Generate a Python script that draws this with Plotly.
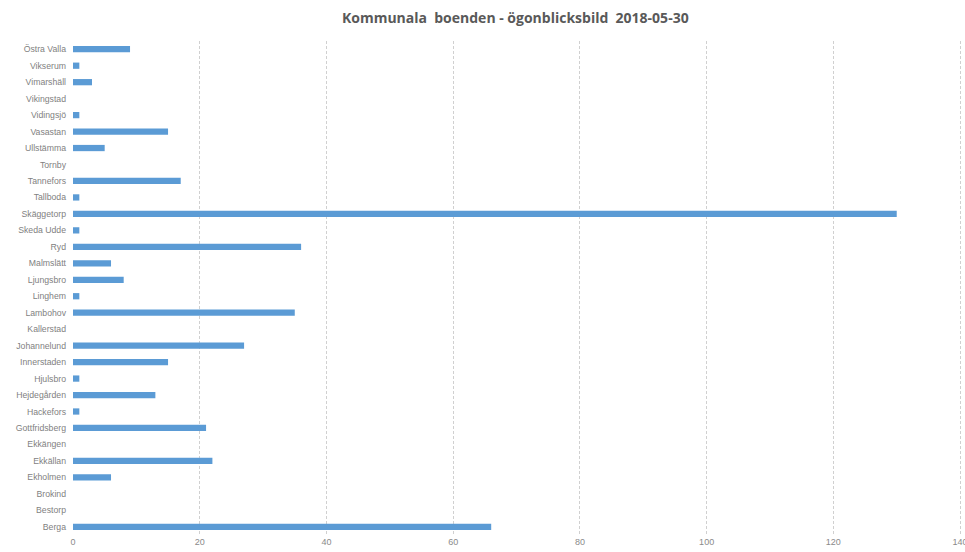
import plotly.graph_objects as go

# Housing units per area, listed top to bottom as drawn
areas = ["Östra Valla", "Vikserum", "Vimarshäll", "Vikingstad", "Vidingsjö", "Vasastan",
         "Ullstämma", "Tornby", "Tannefors", "Tallboda", "Skäggetorp", "Skeda Udde",
         "Ryd", "Malmslätt", "Ljungsbro", "Linghem", "Lambohov", "Kallerstad",
         "Johannelund", "Innerstaden", "Hjulsbro", "Hejdegården", "Hackefors",
         "Gottfridsberg", "Ekkängen", "Ekkällan", "Ekholmen", "Brokind", "Bestorp", "Berga"]
counts = [9, 1, 3, 0, 1, 15, 5, 0, 17, 1, 130, 1, 36, 6, 8, 1, 35, 0,
          27, 15, 1, 13, 1, 21, 0, 22, 6, 0, 0, 66]

x_ticks = [0, 20, 40, 60, 80, 100, 120, 140]

fig = go.Figure(go.Bar(
    x=counts,
    y=areas,
    orientation="h",
    marker=dict(color="#5B9BD5", line=dict(width=0)),
))

fig.update_layout(
    width=965, height=552,
    margin=dict(l=73, r=3, t=41, b=17),
    paper_bgcolor="white",
    plot_bgcolor="white",
    bargap=0.62,
    showlegend=False,
    title=dict(
        text="Kommunala  boenden - ögonblicksbild  2018-05-30",
        x=0.534, xanchor="center", y=0.967, yanchor="middle",
        font=dict(family="Open Sans", size=14, color="#595959", weight="bold"),
    ),
    font=dict(family="Liberation Sans", size=8.7, color="#7f7f7f"),
)

fig.update_xaxes(
    range=[0, 140.3],
    tickvals=x_ticks,
    automargin=False,
    showgrid=True, gridcolor="#d0d0d0", griddash="3px,2px", gridwidth=1,
    zeroline=False,
    showline=False, ticks="",
    ticklabeloverflow="allow",
    tickfont=dict(size=9, color="#8a8a8a"),
)
fig.update_yaxes(
    categoryorder="array",
    categoryarray=areas[::-1],
    showgrid=False, zeroline=False, showline=False, ticks="",
    ticklabelstandoff=6,
    tickfont=dict(size=8.7, color="#7f7f7f"),
)

fig.write_html("out.html")
